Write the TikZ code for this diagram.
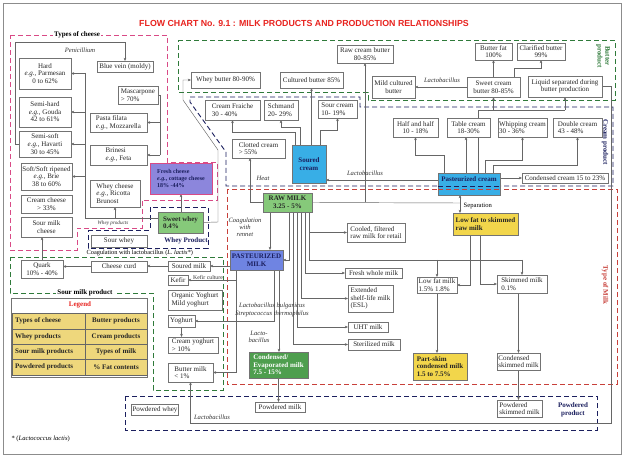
\documentclass[tikz,border=0pt]{standalone}
\usepackage{fontspec}
\setmainfont{Liberation Serif}
\newfontfamily\titlefont{Liberation Sans}
\usetikzlibrary{arrows.meta}
\pgfdeclarelayer{bg}
\pgfsetlayers{bg,main}
\definecolor{titlered}{HTML}{E8231F}
\definecolor{mag}{HTML}{D94A86}
\definecolor{navy}{HTML}{1B1F5E}
\definecolor{dgreen}{HTML}{2F7A3A}
\definecolor{mred}{HTML}{C8403A}
\definecolor{purp}{HTML}{8C86DC}
\definecolor{lgreen}{HTML}{86C97A}
\definecolor{pblue}{HTML}{6F84E2}
\definecolor{cyanb}{HTML}{38AEE6}
\definecolor{cgreen}{HTML}{4E9E4E}
\definecolor{yel}{HTML}{F2D64B}
\definecolor{legy}{HTML}{EED77C}
\newcommand\fs{\fontsize{7}{7.6}\selectfont}
\newcommand\fsl{\fontsize{6.6}{7.2}\selectfont}
\newcommand\bx[7][]{\node[box,#1,minimum width={(#5-#3)*1pt},minimum height={(#6-#4)*1pt}] (#2) at ({(#3+#5)/2},{(#4+#6)/2}) {#7};}
\tikzset{
 box/.style={draw=black!55, fill=white, font=\fs, align=center, inner sep=1pt, outer sep=0pt, line width=0.5pt, text=black!85},
 boxl/.style={align=left},
 leg/.style={fill=legy, draw=black!60},
 legt/.style={font=\fs\bfseries, text=black!85, inner sep=3pt},
 ln/.style={draw=black!60, line width=0.45pt},
 arr/.style={ln, -{Stealth[length=3.2pt,width=2.6pt]}},
 lab/.style={font=\fsl\itshape, inner sep=0.5pt, text=black!80},
 grp/.style={line width=0.9pt, dash pattern=on 5pt off 3pt},
}
\begin{document}
\begin{tikzpicture}[x=1pt,y=-1pt]
\useasboundingbox (0,0) rectangle (624,457);
\draw[black!45, line width=0.8pt] (3,3) rectangle (621,454);
\node[font=\titlefont\bfseries\fontsize{8.8}{9.5}\selectfont, text=titlered] (title) at (304,23) {FLOW CHART No. 9.1 : MILK PRODUCTS AND PRODUCTION RELATIONSHIPS};

% ---------- cheese ----------
\bx{hard}{19}{58}{71}{89}{Hard\\\textit{e.g.}, Parmesan\\0 to 62\%}
\bx{semihard}{19}{97}{71}{127}{Semi-hard\\\textit{e.g.}, Gouda\\42 to 61\%}
\bx{semisoft}{19}{131}{71}{157}{Semi-soft\\\textit{e.g.}, Havarti\\30 to 45\%}
\bx{soft}{21}{163}{72}{190}{Soft/Soft ripened\\\textit{e.g.}, Brie\\38 to 60\%}
\bx{creamcheese}{21}{195}{72}{213}{Cream cheese\\> 33\%}
\bx{sourmilkcheese}{21}{217}{72}{237}{Sour milk\\cheese}
\bx{bluevein}{97}{61}{153}{72}{Blue vein (moldy)}
\bx[boxl]{mascarpone}{118}{86}{158}{104}{Mascarpone\\> 70\%}
\bx[boxl]{pasta}{90}{113}{147}{132}{Pasta filata\\\textit{e.g.}, Mozzarella}
\bx[boxl]{brinesi}{90}{145}{147}{165}{Brinesi\\\textit{e.g.}, Feta}
\bx[boxl]{wheycheese}{90}{180}{140}{207}{Whey cheese\\\textit{e.g.}, Ricotta\\Brunost}
\bx[boxl,fill=purp,draw=mag,font=\fontsize{6}{6.8}\selectfont\bfseries,text=navy]{freshcheese}{150}{163}{212}{194}{Fresh cheese\\\textit{e.g.}, cottage cheese\\18\% -44\%}
\bx[boxl,fill=lgreen,font=\fs\bfseries]{sweetwhey}{158}{212}{203}{233}{Sweet whey\\0.4\%}
\bx{sourwhey}{91}{235}{147}{247}{Sour whey}
\bx{cheesecurd}{91}{261}{147}{272}{Cheese curd}
\bx{quark}{21}{260}{63}{278}{Quark\\10\% - 40\%}
\bx{souredmilk}{168}{261}{210}{271}{Soured milk}
\bx{kefir}{168}{275}{188}{285}{Kefir}
\bx[boxl]{orgyog}{168}{290}{222}{310}{Organic Yoghurt\\Mild yoghurt}
\bx{yoghurt}{168}{315}{195}{327}{Yoghurt}
\bx[boxl]{creamyog}{168}{337}{218}{353}{Cream yoghurt\\> 10\%}
\bx[boxl]{buttermilk}{168}{363}{213}{382}{Butter milk\\< 1\%}
\bx{powwhey}{132}{404}{178}{415}{Powdered whey}
\bx{powmilk}{255}{402}{305}{412}{Powdered milk}
\bx[boxl]{powskim}{497}{400}{542}{417}{Powdered\\skimmed milk}
% ---------- butter ----------
\bx{wheybutter}{191}{72}{260}{88}{Whey butter 80-90\%}
\bx{culturedb}{280}{72}{343}{88}{Cultured butter 85\%}
\bx{rawcb}{337}{45}{393}{63}{Raw cream butter\\80-85\%}
\bx{mildcb}{372}{76}{415}{98}{Mild cultured\\butter}
\bx{bfat}{475}{43}{512}{60}{Butter fat\\100\%}
\bx{clarified}{517}{43}{565}{60}{Clarified butter\\99\%}
\bx{sweetcb}{467}{77}{520}{97}{Sweet cream\\butter 80-85\%}
\bx{liquid}{528}{76}{602}{97}{Liquid separated during\\butter production}
% ---------- cream ----------
\bx[boxl]{fraiche}{205}{100}{260}{120}{Cream Fraiche\\30 - 40\%}
\bx[boxl]{schmand}{264}{100}{298}{120}{Schmand\\20- 29\%}
\bx[boxl]{sourcream}{318}{100}{357}{118}{Sour cream\\10- 19\%}
\bx[boxl]{clotted}{232}{139}{285}{158}{Clotted cream\\> 55\%}
\bx[fill=cyanb,font=\fs\bfseries,text=navy]{soured}{292}{145}{326}{183}{Soured\\cream}
\bx{halfhalf}{393}{118}{438}{137}{Half and half\\10 - 18\%}
\bx{tablecream}{447}{118}{490}{137}{Table cream\\18-30\%}
\bx[boxl]{whipping}{498}{118}{547}{137}{Whipping cream\\30 - 36\%}
\bx[boxl]{double}{553}{118}{602}{137}{Double cream\\43 - 48\%}
\bx[fill=cyanb]{pastcream}{438}{173}{500}{195}{}
\bx{condcream}{522}{173}{608}{183}{Condensed cream 15 to 23\%}
% ---------- milk ----------
\bx[fill=lgreen,font=\fs\bfseries]{rawmilk}{263}{193}{312}{212}{RAW MILK\\3.25 - 5\%}
\bx[fill=pblue,font=\fs\bfseries,text=navy]{pastmilk}{230}{250}{283}{270}{PASTEURIZED\\MILK}
\bx[boxl]{cooled}{347}{223}{405}{242}{Cooled, filtered\\raw milk for retail}
\bx{freshwhole}{345}{268}{402}{278}{Fresh whole milk}
\bx[boxl]{esl}{348}{285}{393}{312}{Extended\\shelf-life milk\\(ESL)}
\bx{uht}{348}{322}{388}{332}{UHT milk}
\bx{sterilized}{348}{339}{400}{350}{Sterilized milk}
\bx[boxl,fill=yel,font=\fs\bfseries]{lowfatraw}{453}{213}{518}{235}{Low fat to skimmed\\raw milk}
\bx[boxl]{lowfatmilk}{417}{277}{457}{293}{Low fat milk\\1.5\% 1.8\%}
\bx[boxl]{skimmed}{497}{275}{547}{293}{Skimmed milk\\0.1\%}
\bx[boxl,fill=yel,font=\fs\bfseries]{partskim}{413}{353}{467}{380}{Part-skim\\condensed milk\\1.5 to 7.5\%}
\bx[boxl]{condskim}{497}{353}{540}{370}{Condensed\\skimmed milk}
\bx[boxl,fill=cgreen,font=\fs\bfseries,text=white]{condevap}{249}{352}{308}{378}{Condensed/\\Evaporated milk\\7.5 - 15\%}

% dashed group borders crossing the pasteurized cream box
\draw[grp, navy] (pastcream.west |- 0,186) -- (pastcream.east |- 0,186);
\draw[grp, mred] (pastcream.west |- 0,189) -- (pastcream.east |- 0,189);
\node[font=\fs\bfseries, text=navy, inner sep=0.5pt] (pctext) at (469,179.5) {Pasteurized cream};

% ---------- legend ----------
\bx[draw=black!55]{legend}{11}{298}{147}{377}{}
\node[font=\fs\bfseries, text=titlered] (legtitle) at (80,305) {Legend};
\bx[leg]{l1}{12}{313}{85}{329}{}
\bx[leg]{l2}{12}{329}{85}{344}{}
\bx[leg]{l3}{12}{344}{85}{359}{}
\bx[leg]{l4}{12}{359}{85}{375}{}
\bx[leg,legt]{r1}{85}{313}{147}{329}{Butter products}
\bx[leg,legt]{r2}{85}{329}{147}{344}{Cream products}
\bx[leg,legt]{r3}{85}{344}{147}{359}{Types of milk}
\bx[leg,legt]{r4}{85}{359}{147}{375}{\% Fat contents}
\node[legt, anchor=west] (t1) at (l1.west) {Types of cheese};
\node[legt, anchor=west] (t2) at (l2.west) {Whey products};
\node[legt, anchor=west] (t3) at (l3.west) {Sour milk products};
\node[legt, anchor=west] (t4) at (l4.west) {Powdered products};

% ---------- labels ----------
\node[font=\fs\bfseries, fill=white, inner sep=1pt] (tcl) at (77,35) {Types of cheese};
\node[lab] (penl) at (80,50) {Penicillium};
\node[lab, font=\fontsize{5.2}{5.8}\selectfont\itshape] (wpl) at (113,223) {Whey products};
\node[font=\fs\bfseries, text=navy] (wpg) at (186,241) {Whey Product};
\node[font=\fontsize{6.3}{7}\selectfont, anchor=west, inner sep=0.5pt] (coagl) at (86,252.5) {Coagulation with lactobacillus (\textit{L. lactis*})};
\node[font=\fs\bfseries, fill=white, inner sep=1pt] (smp) at (85,293) {Sour milk product};
\node[lab, align=center] (rennet) at (245,227) {Coagulation\\with\\rennet};
\node[lab] (heat) at (263,178) {Heat};
\node[lab] (lacto1) at (365,173) {Lactobacillus};
\node[font=\fsl, anchor=west, inner sep=0.5pt] (sepl) at (463,206) {Separation};
\node[lab] (lacto2) at (442,80) {Lactobacillus};
\node[font=\fontsize{5.8}{6.3}\selectfont, text=black!80, inner sep=0.5pt] (kefc) at (208,277) {Kefir culture};
\node[lab, align=center] (bulg) at (272,310) {Lactobacillus bulgaricus\\Streptococcus thermophilus};
\node[lab, align=center] (lacto3) at (259,337) {Lacto-\\bacillus};
\node[lab] (lacto4) at (212,417) {Lactobacillus};
\node[font=\fsl, anchor=west] (foot) at (8,439) {* (\textit{Lactococcus lactis})};
\node[font=\fs\bfseries, text=dgreen, rotate=-90, align=center] (bpl) at (603,56) {Butter\\product};
\node[font=\fs\bfseries, text=navy, rotate=-90] (cpl) at (605,142) {Cream product};
\node[font=\fs\bfseries, text=mred, rotate=-90] (tml) at (605,285) {Type of Milk};
\node[font=\fs\bfseries, text=navy, align=center] (ppl) at (573,410) {Powdered\\product};

\begin{pgfonlayer}{bg}
\fill[white] (0,0) rectangle (624,457);
% groups
\draw[grp, mag] (10,35) -- (167,35) -- (167,162) -- (217,162) -- (217,200) -- (142,200) -- (142,228) -- (77,228) -- (77,250) -- (10,250) -- cycle;
\draw[grp, navy] (88,230) -- (150,230) -- (150,207) -- (208,207) -- (208,248) -- (88,248) -- cycle;
\draw[grp, dgreen] (10,257) -- (223,257) -- (223,390) -- (153,390) -- (153,293) -- (10,293) -- cycle;
\draw[grp, dgreen] (178,40) -- (615,40) -- (615,100) -- (368,100) -- (368,92) -- (178,92) -- cycle;
\draw[grp, navy] (190,97) -- (360,97) -- (360,107) -- (613,107) -- (613,186) -- (226,186) -- (226,152) -- (190,102) -- cycle;
\draw[grp, mred] (227,189) rectangle (617,384);
\draw[grp, navy] (125,396) rectangle (597,430);

% cheese connectors
\coordinate (cbT) at (85,73);
\coordinate (cbB) at (85,218);
\draw[ln] (cbT) -- (cbB) -- (cbB -| sweetwhey.west);
\draw[arr] (cbB) |- (hard);
\draw[arr] (cbB) |- (semihard);
\draw[arr] (cbB) |- (semisoft);
\draw[arr] (cbB) |- (soft);
\draw[arr] (cbB -| wheycheese.south) -- (wheycheese.south);
\coordinate (pen) at (15,42);
\draw[arr] (semisoft.west) -| (pen) -| (bluevein.north);
\coordinate (mbT) at (160,95);
\coordinate (mbB) at (160,155);
\draw[ln] (mascarpone.east) -- (mbT) -- (mbB);
\draw[arr] (mbB) |- (pasta);
\draw[arr] (mbB) -- (brinesi);
\draw[arr] (sweetwhey.north -| freshcheese.south) -- (freshcheese.south);
\coordinate (sw1) at (218,222);
\coordinate (sw2) at (218,150);
\coordinate (sw3) at (183,100);
\draw[arr] (sweetwhey.east) -- (sw1) -- (sw2) -- (sw3) |- (wheybutter.west);
% sour milk
\draw[arr] (souredmilk.west) -- (souredmilk.west -| cheesecurd.east);
\draw[arr] (cheesecurd.west) -- (cheesecurd.west -| quark.east);
\draw[arr] (quark.north) -- (quark.north |- sourmilkcheese.south);
\draw[arr] (pastmilk.west |- souredmilk.east) -- (souredmilk.east);
\coordinate (pmL) at (236,270);
\draw[arr] (pmL) |- (buttermilk.east);
\draw[arr] (pmL |- kefir.east) -- (kefir.east);
\coordinate (pmY) at (274,270);
\draw[arr] (pmY) |- (yoghurt.east);
\draw[arr] (yoghurt.south) -- (yoghurt.south |- creamyog.north);
\coordinate (pmC) at (279,270);
\draw[arr] (pmC) -- (pmC |- condevap.north);
\draw[arr] (condevap.south) -- (condevap.south |- powmilk.north);
% raw milk
\coordinate (rm0) at (270,212);
\draw[arr] (rm0) -- (rm0 |- pastmilk.north);
\coordinate (v1) at (289,212);
\coordinate (v2) at (293,212);
\coordinate (v3) at (297,212);
\coordinate (v4) at (301,212);
\coordinate (v5) at (305,212);
\coordinate (v6) at (309,212);
\draw[arr] (v1) |- (pastmilk.east);
\draw[arr] (v2) |- (sterilized.west);
\draw[arr] (v3) |- (uht.west);
\draw[arr] (v4) |- (esl.west);
\draw[arr] (v5) |- (freshwhole.west);
\draw[arr] (v6) |- (cooled.west);
\coordinate (skL) at (309,260);
\draw[ln] (v6) -- (skL) -- (skL -| skimmed.north);
\draw[arr] (skL -| skimmed.north) -- (skimmed.north);
\draw[arr] (skL -| lowfatmilk.north) -- (lowfatmilk.north);
\coordinate (sep) at (460,203);
\draw[ln] (rawmilk.east) -- (sep);
\draw[arr] (sep) -- (sep |- pastcream.south);
\draw[arr] (sep) -- (sep |- lowfatraw.north);
\coordinate (ly1) at (470,235);
\coordinate (ly2) at (480,235);
\draw[arr] (ly1) |- (lowfatmilk.east);
\draw[arr] (ly2) |- (skimmed.west);
\draw[arr] (lowfatmilk.south) -- (lowfatmilk.south |- partskim.north);
\draw[arr] (skimmed.south -| condskim.north) -- (condskim.north);
\draw[arr] (condskim.south) -- (condskim.south |- powskim.north);
\coordinate (cl) at (250,158);
\draw[arr] (rawmilk.west) -| (cl);
% cream
\draw[arr] (pastcream.east |- condcream.west) -- (condcream.west);
\coordinate (pc1) at (438,180);
\draw[arr] (pc1) -- (pc1 -| soured.east);
\coordinate (pcA) at (444,173);
\coordinate (pcB) at (466,173);
\coordinate (pcC) at (485,173);
\coordinate (pcD) at (493,173);
\coordinate (pcE) at (478,173);
\draw[arr] (pcA) -- ++(0,-18) -| (halfhalf.south);
\draw[arr] (pcB) -- (pcB |- tablecream.south);
\draw[arr] (pcC) -- ++(0,-13) -| (whipping.south);
\draw[arr] (pcD) -- ++(0,-8) -| (double.south);
\coordinate (bl1) at (478,110);
\coordinate (bl2) at (565,110);
\draw[ln] (pcE) -- (bl1) -- (bl2);
\draw[arr] (bl2) -- (liquid.south);
\draw[arr] (bl1 -| sweetcb.south) -- (sweetcb.south);
\draw[arr] (soured.north -| 295,0) -- ++(0,-13) -| (fraiche.south);
\draw[arr] (soured.north -| 300,0) -- ++(0,-18) -| (schmand.south);
\draw[arr] (soured.north -| 320,0) -- ++(0,-15) -| (sourcream.south);
\draw[arr] (soured.north -| culturedb.south) -- (culturedb.south);
\draw[arr] (rawcb.south |- rawmilk.east) -- (rawcb.south);
% butter
\draw[arr] (sweetcb.west) -- (sweetcb.west -| mildcb.east);
\draw[arr] (sweetcb.north -| bfat.south) -- (bfat.south);
\coordinate (cb1) at (514,77);
\draw[arr] (cb1) -- ++(0,-9) -| (clarified.south);
\coordinate (lq1) at (611,423);
\draw[arr] (liquid.east) -| (lq1) -| (buttermilk.south);
\end{pgfonlayer}
\end{tikzpicture}
\end{document}
